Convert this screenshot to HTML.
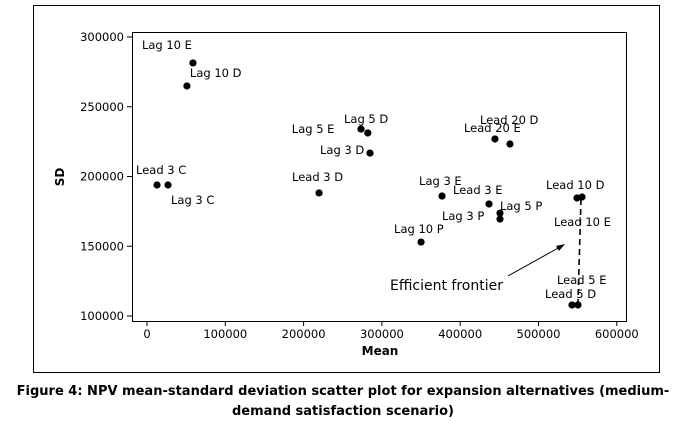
<!DOCTYPE html>
<html><head><meta charset="utf-8"><style>
body{margin:0;background:#fff;width:687px;height:424px;overflow:hidden}
svg{display:block}
text{font-family:"DejaVu Sans","Liberation Sans",sans-serif;}
</style></head><body>
<svg id="chart" width="687" height="424">
<rect x="33.5" y="5.5" width="626" height="367" fill="none" stroke="#000"/>
<rect x="132.5" y="32.5" width="494" height="289" fill="none" stroke="#000"/>
<g id="axes"></g>
<g id="marks"></g>
<text x="380" y="355" font-size="12" font-weight="bold" text-anchor="middle">Mean</text>
<text transform="translate(64,177) rotate(-90)" font-size="12" font-weight="bold" text-anchor="middle">SD</text>
<line x1="581" y1="199" x2="578" y2="302" stroke="#000" stroke-width="1.6" stroke-dasharray="6,4"/>
<line x1="508" y1="276" x2="560" y2="247" stroke="#000" stroke-width="1"/>
<polygon points="565,244 556,246 559,251" fill="#000"/>
<text x="390" y="290" font-size="14" font-family="Liberation Sans">Efficient frontier</text>
<text x="343" y="395" font-size="13" font-weight="bold" text-anchor="middle">Figure 4: NPV mean-standard deviation scatter plot for expansion alternatives (medium-</text>
<text x="343" y="415" font-size="13" font-weight="bold" text-anchor="middle">demand satisfaction scenario)</text>
</svg>
<script>
const names=["Lag 10 E","Lag 10 D","Lead 3 C","Lag 3 C","Lead 3 D","Lag 5 D","Lag 5 E","Lag 3 D","Lead 20 E","Lead 20 D","Lag 3 E","Lead 3 E","Lag 5 P","Lag 3 P","Lag 10 P","Lead 10 D","Lead 10 E","Lead 5 D","Lead 5 E"];
const means=[58700,51000,12800,26800,219700,273300,282000,284800,444400,463600,376800,436800,450800,450800,350000,549200,555600,542800,550400];
const sds=[281400,264900,193900,193900,188200,234000,231200,216800,226900,223300,186000,180300,173800,169500,153000,184600,185300,107900,107900];
const xTicks=[0,100000,200000,300000,400000,500000,600000];
const yTicks=[100000,150000,200000,250000,300000];
const labelOff=[[-51,-14],[3,-9],[-21,-11],[3,19],[-27,-12],[-17,-6],[-76,0],[-50,1],[-31,-7],[-30,-20],[-23,-11],[-36,-10],[0,-3],[-58,1],[-27,-9],[-31,-9],[-28,29],[-27,-7],[-21,-21]];
const sx=v=>147+v*0.000783;
const sy=v=>37+(300000-v)*139.5/100000;
const NS="http://www.w3.org/2000/svg";
const ax=document.getElementById('axes'),mk=document.getElementById('marks');
function mkEl(t,a,p,txt){const e=document.createElementNS(NS,t);for(const k in a)e.setAttribute(k,a[k]);if(txt!==undefined)e.textContent=txt;p.appendChild(e);return e;}
xTicks.forEach(v=>{const x=sx(v);
const l=mkEl('line',{x1:x,y1:321,x2:x,y2:326,stroke:'#000'},ax);


const t=mkEl('text',{x:x,y:338,'font-size':11.5,'text-anchor':'middle'},ax,String(v));

});
yTicks.forEach(v=>{const y=sy(v);
const l=mkEl('line',{x1:127,y1:y,x2:132,y2:y,stroke:'#000'},ax);


const t=mkEl('text',{x:124,y:y+4,'font-size':11.5,'text-anchor':'end'},ax,String(v));

});
names.forEach((n,i)=>{const x=sx(means[i]),y=sy(sds[i]);
const c=mkEl('circle',{cx:x,cy:y,r:3.6,fill:'#000'},mk);


const t=mkEl('text',{x:x+labelOff[i][0],y:y+labelOff[i][1],'font-size':11.5},mk,n);

});
</script>
</body></html>
